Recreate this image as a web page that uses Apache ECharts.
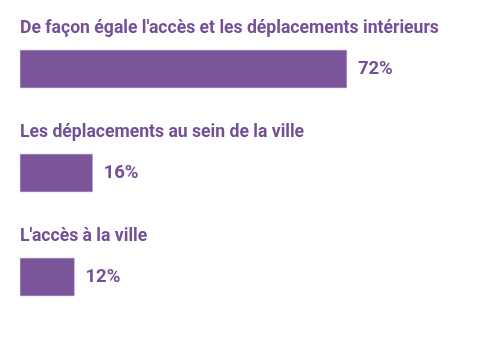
<!DOCTYPE html>
<html><head><meta charset="utf-8">
<script src="https://cdn.jsdelivr.net/npm/echarts@6/dist/echarts.min.js"></script>
<style>html,body{margin:0;padding:0;background:#fff}#c{width:501px;height:345px}</style>
</head><body><div id="c"></div>
<script>
const categories = ["De façon égale l'accès et les déplacements intérieurs", "Les déplacements au sein de la ville", "L'accès à la ville"];
const values = [72, 16, 12];
const chart = echarts.init(document.getElementById('c'), null, {renderer: 'canvas'});
chart.setOption({
  animation: false,
  grid: {left: 20, right: 27, top: 17, bottom: 16, containLabel: false},
  xAxis: {type: 'value', min: 0, max: 100, show: false},
  yAxis: {
    type: 'category', data: categories, inverse: true,
    axisLine: {show: false}, axisTick: {show: false},
    axisLabel: {
      inside: true, margin: 0, align: 'left', verticalAlign: 'bottom',
      padding: [0, 0, 30, 0], lineHeight: 20,
      fontFamily: 'Roboto', fontWeight: 'bold', fontSize: 17.6, color: '#744f98'
    }
  },
  series: [{
    type: 'bar', data: values, barWidth: 38,
    itemStyle: {color: '#7b5599', borderColor: '#9a7cb5', borderWidth: 0.5},
    label: {
      show: true, position: 'right', distance: 11, formatter: '{c}%',
      fontFamily: 'Roboto', fontWeight: 'bold', fontSize: 18.5, color: '#744f98'
    }
  }]
});
</script></body></html>
